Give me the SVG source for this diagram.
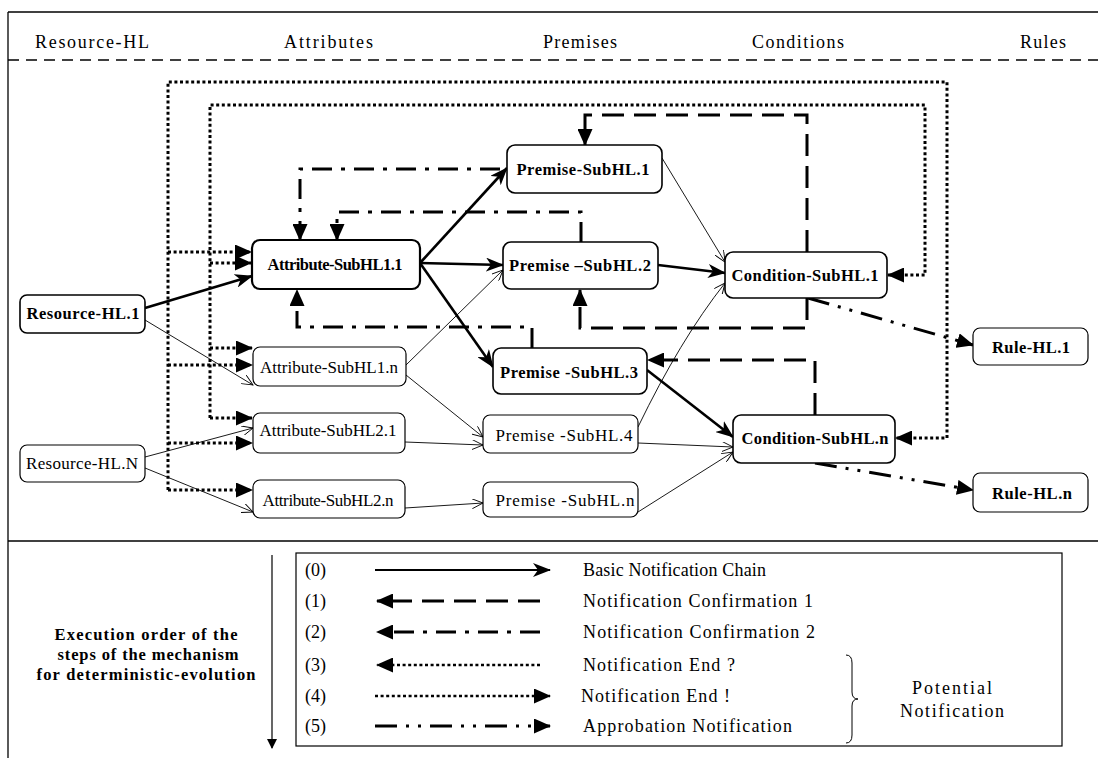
<svg xmlns="http://www.w3.org/2000/svg" width="1098" height="758" viewBox="0 0 1098 758" font-family="'Times New Roman', 'Liberation Serif', Times, 'DejaVu Serif', serif">
<style>
.bg{fill:#fff}
.frame{stroke:#000;stroke-width:1.3;fill:none}
text{font-family:'Times New Roman','Liberation Serif',Times,'DejaVu Serif',serif}
.hdr{font-size:18px;fill:#000}
.box{fill:#fff;stroke:#000;stroke-width:1.2}
.boxb{fill:#fff;stroke:#000;stroke-width:1.6}
.lb{font-size:16.5px;font-weight:bold;fill:#000;text-anchor:middle}
.ln{font-size:17px;fill:#000;text-anchor:middle}
.thick{stroke:#000;stroke-width:2.6;fill:none;marker-end:url(#ah)}
.thin{stroke:#000;stroke-width:0.9;fill:none;marker-end:url(#ao)}
.dash{stroke:#000;stroke-width:3;fill:none;stroke-dasharray:22 10;marker-end:url(#af)}
.dd{stroke:#000;stroke-width:3;fill:none;stroke-dasharray:20 9 4 9;marker-end:url(#af)}
.dota{stroke:#000;stroke-width:3;fill:none;stroke-dasharray:3 2.6;marker-end:url(#af)}
.ddd{stroke:#000;stroke-width:3;fill:none;stroke-dasharray:22 9 3 9 3 9;marker-end:url(#af)}
.leg{font-size:18px;fill:#000}
.exe{font-size:16.5px;font-weight:bold;fill:#000;text-anchor:middle}
</style>
<defs>
<marker id="af" markerUnits="userSpaceOnUse" markerWidth="17" markerHeight="15" refX="16" refY="7.5" orient="auto"><path d="M0,0 L17,7.5 L0,15 z" fill="#000"/></marker>
<marker id="ah" markerUnits="userSpaceOnUse" markerWidth="18" markerHeight="14" refX="17" refY="7" orient="auto"><path d="M0,0 L18,7 L0,14 L5,7 z" fill="#000"/></marker>
<marker id="ao" markerUnits="userSpaceOnUse" markerWidth="12" markerHeight="10" refX="11" refY="5" orient="auto"><path d="M0,0 L11,5 L0,10" fill="none" stroke="#000" stroke-width="0.9"/></marker>
<marker id="as" markerUnits="userSpaceOnUse" markerWidth="10" markerHeight="14" refX="9" refY="5" orient="auto"><path d="M0,0 L10,5 L0,10 z" fill="#000"/></marker>
</defs>
<rect class="bg" x="0" y="0" width="1098" height="758"/>

<g id="frame">
<line class="frame" x1="8" y1="12" x2="1098" y2="12"/>
<line class="frame" x1="8" y1="12" x2="8" y2="758"/>
<line x1="8" y1="60" x2="1098" y2="60" stroke="#000" stroke-width="1.3" stroke-dasharray="11 7"/>
<line class="frame" x1="8" y1="541" x2="1098" y2="541"/>
<text class="hdr" x="35" y="48" textLength="114" lengthAdjust="spacing">Resource-HL</text>
<text class="hdr" x="284" y="48" textLength="89" lengthAdjust="spacing">Attributes</text>
<text class="hdr" x="543" y="48" textLength="74" lengthAdjust="spacing">Premises</text>
<text class="hdr" x="752" y="48" textLength="92" lengthAdjust="spacing">Conditions</text>
<text class="hdr" x="1020" y="48" textLength="46" lengthAdjust="spacing">Rules</text>
</g>

<g id="connectors">
<path class="thick" d="M145,308 L252,276"/>
<path class="thick" d="M420,263 L507,168"/>
<path class="thick" d="M420,263 L503,265"/>
<path class="thick" d="M420,263 L493,367"/>
<path class="thick" d="M658,265 L725,273"/>
<path class="thick" d="M647,370 L733,437"/>
<path class="thin" d="M145,320 L253,385"/>
<path class="thin" d="M145,457 L253,428"/>
<path class="thin" d="M145,468 L253,512"/>
<path class="thin" d="M406,365 L503,270"/>
<path class="thin" d="M406,375 L483,437"/>
<path class="thin" d="M405,442 L483,445"/>
<path class="thin" d="M405,508 L483,503"/>
<path class="thin" d="M662,158 L725,262"/>
<path class="thin" d="M638,427 Q680,340 725,283"/>
<path class="thin" d="M638,443 L733,447"/>
<path class="thin" d="M638,512 L733,452"/>
<path class="dash" d="M807,252 L807,115 L585,115 L585,145"/>
<path class="dash" d="M807,298 L807,328 L580,328 L580,290"/>
<path class="dash" d="M815,415 L815,360 L648,360"/>
<path class="dd" d="M500,169 L300,169 L300,240"/>
<path class="dd" d="M581,242 L581,212 L337,212 L337,240"/>
<path class="dd" d="M532,348 L532,327 L297,327 L297,290"/>
<path class="dota" d="M168,490 L168,82 L947,82 L947,438 L896,438"/>
<path class="dota" d="M168,252 L251,252"/>
<path class="dota" d="M168,365 L252,365"/>
<path class="dota" d="M168,443 L252,443"/>
<path class="dota" d="M168,490 L252,490"/>
<path class="dota" d="M210,418 L210,105 L925,105 L925,275 L888,275"/>
<path class="dota" d="M210,263 L251,263"/>
<path class="dota" d="M210,348 L252,348"/>
<path class="dota" d="M210,418 L252,418"/>
<path class="ddd" d="M808,298 L973,345"/>
<path class="ddd" d="M815,463 L973,490"/>
</g>

<g id="n-resource-hl1"><rect class="boxb" x="20" y="295" width="125" height="38" rx="7"/><text class="lb" x="83" y="319" textLength="113" lengthAdjust="spacing">Resource-HL.1</text></g>
<g id="n-resource-hln"><rect class="box" x="20" y="445" width="125" height="37" rx="7"/><text class="ln" x="82" y="469" textLength="112" lengthAdjust="spacing">Resource-HL.N</text></g>
<g id="n-attr11"><rect x="252" y="240" width="168" height="49" rx="8" fill="#fff" stroke="#000" stroke-width="2.2"/><text class="lb" x="335" y="270" font-size="15" textLength="135" lengthAdjust="spacing">Attribute-SubHL1.1</text></g>
<g id="n-attr1n"><rect class="box" x="253" y="347" width="153" height="39" rx="7"/><text class="ln" x="329" y="373" textLength="138" lengthAdjust="spacing">Attribute-SubHL1.n</text></g>
<g id="n-attr21"><rect class="box" x="253" y="413" width="152" height="40" rx="7"/><text class="ln" x="328" y="436" textLength="137" lengthAdjust="spacing">Attribute-SubHL2.1</text></g>
<g id="n-attr2n"><rect class="box" x="253" y="480" width="152" height="38" rx="7"/><text class="ln" x="328" y="506" font-size="15.5" textLength="131" lengthAdjust="spacing">Attribute-SubHL2.n</text></g>
<g id="n-prem1"><rect class="boxb" x="507" y="145" width="155" height="48" rx="8"/><text class="lb" x="583" y="175" textLength="133" lengthAdjust="spacing">Premise-SubHL.1</text></g>
<g id="n-prem2"><rect class="boxb" x="503" y="242" width="155" height="47" rx="8"/><text class="lb" x="580" y="271" textLength="142" lengthAdjust="spacing">Premise –SubHL.2</text></g>
<g id="n-prem3"><rect class="boxb" x="493" y="348" width="154" height="46" rx="8"/><text class="lb" x="569" y="378" textLength="138" lengthAdjust="spacing">Premise -SubHL.3</text></g>
<g id="n-prem4"><rect class="box" x="483" y="415" width="155" height="38" rx="7"/><text class="ln" x="564" y="441" textLength="137" lengthAdjust="spacing">Premise -SubHL.4</text></g>
<g id="n-premn"><rect class="box" x="483" y="482" width="155" height="35" rx="7"/><text class="ln" x="565" y="506" textLength="139" lengthAdjust="spacing">Premise -SubHL.n</text></g>
<g id="n-cond1"><rect class="boxb" x="725" y="252" width="162" height="46" rx="8"/><text class="lb" x="805" y="281" textLength="147" lengthAdjust="spacing">Condition-SubHL.1</text></g>
<g id="n-condn"><rect class="boxb" x="733" y="415" width="162" height="48" rx="8"/><text class="lb" x="815" y="444" textLength="147" lengthAdjust="spacing">Condition-SubHL.n</text></g>
<g id="n-rule1"><rect class="box" x="973" y="328" width="115" height="37" rx="7"/><text class="lb" x="1031" y="353" textLength="78" lengthAdjust="spacing">Rule-HL.1</text></g>
<g id="n-rulen"><rect class="box" x="973" y="473" width="115" height="39" rx="7"/><text class="lb" x="1032" y="499" textLength="80" lengthAdjust="spacing">Rule-HL.n</text></g>

<g id="execution">
<line x1="272" y1="555" x2="272" y2="748" stroke="#000" stroke-width="1.2" marker-end="url(#as)"/>
<text class="exe" x="146" y="640" textLength="183" lengthAdjust="spacing">Execution order of the</text>
<text class="exe" x="148" y="660" textLength="181" lengthAdjust="spacing">steps of the mechanism</text>
<text class="exe" x="146" y="680" textLength="219" lengthAdjust="spacing">for deterministic-evolution</text>
</g>

<g id="legend">
<rect x="296" y="553" width="766" height="193" fill="none" stroke="#000" stroke-width="1.2"/>
<text class="leg" x="305" y="576" font-size="17">(0)</text>
<text class="leg" x="305" y="607" font-size="17">(1)</text>
<text class="leg" x="305" y="638" font-size="17">(2)</text>
<text class="leg" x="305" y="671" font-size="17">(3)</text>
<text class="leg" x="305" y="702" font-size="17">(4)</text>
<text class="leg" x="305" y="732" font-size="17">(5)</text>
<path d="M375,570 L550,570" stroke="#000" stroke-width="2" fill="none" marker-end="url(#ah)"/>
<path class="dash" d="M540,601 L377,601"/>
<path class="dd" d="M540,632 L377,632"/>
<path class="dota" d="M540,665 L377,665" style="stroke-width:2.5"/>
<path class="dota" d="M375,696 L550,696" style="stroke-width:2.5"/>
<path class="ddd" d="M375,726 L550,726"/>
<text class="leg" x="583" y="576" textLength="183" lengthAdjust="spacing">Basic Notification Chain</text>
<text class="leg" x="583" y="607" textLength="230" lengthAdjust="spacing">Notification Confirmation 1</text>
<text class="leg" x="583" y="638" textLength="232" lengthAdjust="spacing">Notification Confirmation 2</text>
<text class="leg" x="583" y="671" textLength="152" lengthAdjust="spacing">Notification End ?</text>
<text class="leg" x="581" y="702" textLength="149" lengthAdjust="spacing">Notification End !</text>
<text class="leg" x="583" y="732" textLength="209" lengthAdjust="spacing">Approbation Notification</text>
<path d="M846,655 Q852,655 852,663 L852,692 Q852,699 858,699 Q852,699 852,706 L852,735 Q852,743 846,743" fill="none" stroke="#000" stroke-width="1"/>
<text class="leg" x="952" y="694" text-anchor="middle" textLength="80" lengthAdjust="spacing">Potential</text>
<text class="leg" x="952" y="717" text-anchor="middle" textLength="104" lengthAdjust="spacing">Notification</text>
</g>
</svg>
